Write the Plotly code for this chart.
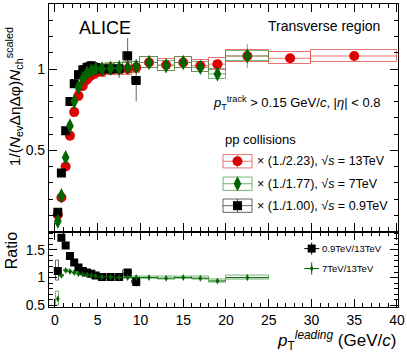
import plotly.graph_objects as go
from plotly.subplots import make_subplots

# leading pT bin centres and half widths (GeV/c)
pt = [0.33, 0.75, 1.25, 1.75, 2.25, 2.75, 3.25, 3.75, 4.25, 4.75,
      5.5, 6.5, 7.5, 8.5, 9.5, 11, 13, 15, 17, 19, 22.5, 27.5, 35]
pt_hw = [0.17, 0.25, 0.25, 0.25, 0.25, 0.25, 0.25, 0.25, 0.25, 0.25,
         0.5, 0.5, 0.5, 0.5, 0.5, 1, 1, 1, 1, 1, 2.5, 2.5, 5]

# scaled number densities, transverse region
dens_13 = [0.103, 0.21, 0.40, 0.59, 0.735, 0.835, 0.895, 0.935, 0.96, 0.975,
           0.985, 0.995, 1.0, 1.0, 1.01, 1.04, 1.025, 1.04, 1.02, 1.03, 1.08, 1.066, 1.08]
stat_13 = [0.003, 0.003, 0.004, 0.004, 0.004, 0.005, 0.005, 0.005, 0.006, 0.006,
           0.006, 0.007, 0.008, 0.009, 0.01, 0.01, 0.012, 0.015, 0.017, 0.02, 0.02, 0.025, 0.03]
dens_7 = [0.064, 0.22, 0.455, 0.65, 0.80, 0.89, 0.94, 0.975, 0.99, 1.0,
          1.0, 1.005, 1.005, 1.01, 1.015, 1.04, 1.02, 1.04, 1.01, 0.97, 1.08]
stat_7 = [0.003, 0.003, 0.004, 0.005, 0.005, 0.006, 0.006, 0.007, 0.008, 0.009,
          0.01, 0.012, 0.015, 0.02, 0.02, 0.02, 0.025, 0.025, 0.03, 0.03, 0.075]
dens_09 = [0.119, 0.36, 0.62, 0.80, 0.91, 0.965, 0.995, 1.01, 1.02, 1.01,
           1.0, 1.0, 1.0, 1.08, 0.93]
stat_09 = [0.004, 0.005, 0.006, 0.008, 0.01, 0.012, 0.014, 0.016, 0.02, 0.025,
           0.02, 0.03, 0.055, 0.11, 0.13]

# ratios to 13 TeV
ratio_7 = [0.62, 1.04, 1.13, 1.11, 1.09, 1.07, 1.06, 1.05, 1.04, 1.03,
           1.01, 1.01, 1.0, 1.0, 1.0, 1.0, 0.99, 1.0, 0.99, 0.94, 1.0]
ratio_7_stat = [0.01, 0.01, 0.01, 0.01, 0.01, 0.01, 0.01, 0.01, 0.01, 0.01,
                0.01, 0.01, 0.012, 0.015, 0.02, 0.015, 0.02, 0.02, 0.025, 0.03, 0.05]
ratio_7_sys = [0.12, 0.02, 0.02, 0.02, 0.02, 0.02, 0.02, 0.02, 0.02, 0.02,
               0.025, 0.025, 0.025, 0.025, 0.025, 0.025, 0.025, 0.025, 0.025, 0.03, 0.03]
ratio_09 = [1.12, 1.72, 1.58, 1.39, 1.27, 1.18, 1.12, 1.09, 1.07, 1.04,
            1.01, 1.01, 1.01, 1.09, 0.92]
ratio_09_stat = [0.01, 0.01, 0.01, 0.01, 0.01, 0.01, 0.01, 0.01, 0.012, 0.015,
                 0.015, 0.02, 0.03, 0.06, 0.08]
ratio_09_sys = [0.18, 0.02, 0.02, 0.02, 0.02, 0.02, 0.02, 0.02, 0.02, 0.02,
                0.02, 0.02, 0.02, 0.03, 0.03]

RED = "#dd0000"
GREEN = "#006400"
BLACK = "#000000"
RED_BOX = "rgba(225,70,70,0.75)"
GREEN_BOX = "rgba(60,150,60,0.7)"
BLACK_BOX = "rgba(60,60,60,0.8)"
FONT = "Liberation Sans, Arial, sans-serif"

fig = make_subplots(rows=2, cols=1, shared_xaxes=True, vertical_spacing=0,
                    row_heights=[0.751, 0.249])


def sys_boxes(x, hw, y, rel_or_abs, color, row, relative=True):
    n = len(y)
    half = [y[i] * rel_or_abs if relative else rel_or_abs[i] for i in range(n)]
    fig.add_trace(go.Bar(
        x=x[:n], y=[2 * h for h in half], base=[y[i] - half[i] for i in range(n)],
        width=[2 * w for w in hw[:n]],
        marker=dict(color="rgba(0,0,0,0)", line=dict(color=color, width=1)),
        showlegend=False, hoverinfo="skip"), row=row, col=1)


def points(x, hw, y, err, color, symbol, size, row, ecolor=None):
    n = len(y)
    fig.add_trace(go.Scatter(
        x=x[:n], y=y, mode="markers",
        marker=dict(color=color, symbol=symbol, size=size, line=dict(width=0)),
        error_x=dict(type="data", array=hw[:n], width=0, thickness=1, color=ecolor or color),
        error_y=dict(type="data", array=err, width=0, thickness=1, color=ecolor or color),
        showlegend=False), row=row, col=1)


# main panel
sys_boxes(pt, pt_hw, dens_13, 0.035, RED_BOX, 1)
sys_boxes(pt, pt_hw, dens_7, 0.03, GREEN_BOX, 1)
sys_boxes(pt, pt_hw, dens_09, 0.025, BLACK_BOX, 1)
points(pt, pt_hw, dens_13, stat_13, RED, "circle", 10, 1, ecolor=RED_BOX)
points(pt, pt_hw, dens_09, stat_09, BLACK, "square", 9, 1, ecolor="#666666")
points(pt, pt_hw, dens_7, stat_7, GREEN, "diamond-tall", 11, 1, ecolor=GREEN_BOX)

# ratio panel
fig.add_hline(y=1, line=dict(color="#888888", width=1, dash="dot"), row=2, col=1)
sys_boxes(pt, pt_hw, ratio_7, ratio_7_sys, GREEN_BOX, 2, relative=False)
sys_boxes(pt, [0.17] + pt_hw[1:], ratio_09, ratio_09_sys, BLACK_BOX, 2, relative=False)
points(pt, pt_hw, ratio_09, ratio_09_stat, BLACK, "square", 8, 2, ecolor=BLACK)
points(pt, pt_hw, ratio_7, ratio_7_stat, GREEN, "diamond-tall", 5, 2)

# legend glyphs on a full-area overlay axis (paper units)
leg_x = 0.5401
leg_y = [0.481, 0.4069, 0.3344]
leg_sym = [("circle", 10, RED, RED_BOX), ("diamond-tall", 11, GREEN, GREEN_BOX),
           ("square", 9, BLACK, BLACK_BOX)]
leg_txt = ["× (1./2.23), √<i>s</i> = 13TeV", "× (1./1.77), √<i>s</i> = 7TeV",
           "× (1./1.00), √<i>s</i> = 0.9TeV"]
for yy, (sym, sz, col, bcol), txt in zip(leg_y, leg_sym, leg_txt):
    fig.add_shape(type="rect", xref="paper", yref="paper",
                  x0=leg_x - 0.0415, x1=leg_x + 0.0415, y0=yy - 0.022, y1=yy + 0.022,
                  line=dict(color=bcol, width=1))
    fig.add_trace(go.Scatter(
        x=[leg_x], y=[yy], xaxis="x3", yaxis="y3", mode="markers",
        marker=dict(color=col, symbol=sym, size=sz),
        error_x=dict(type="constant", value=0.0415, width=0, thickness=1, color=bcol),
        error_y=dict(type="constant", value=0.022, width=0, thickness=1, color=bcol),
        showlegend=False, hoverinfo="skip"))
    fig.add_annotation(x=0.590, y=yy, xref="paper", yref="paper", text=txt,
                       showarrow=False, xanchor="left", yanchor="middle",
                       font=dict(size=12.5, family=FONT, color="black"))

rleg_x = 0.7527
rleg_y = [0.1928, 0.1269]
rleg_sym = [("square", 8, BLACK), ("diamond-tall", 5, GREEN)]
rleg_txt = ["0.9TeV/13TeV", "7TeV/13TeV"]
for yy, (sym, sz, col), txt in zip(rleg_y, rleg_sym, rleg_txt):
    fig.add_trace(go.Scatter(
        x=[rleg_x], y=[yy], xaxis="x3", yaxis="y3", mode="markers",
        marker=dict(color=col, symbol=sym, size=sz),
        error_x=dict(type="constant", value=0.0215, width=0, thickness=1, color=col),
        error_y=dict(type="constant", value=0.02, width=0, thickness=1, color=col),
        showlegend=False, hoverinfo="skip"))
    fig.add_annotation(x=0.7765, y=yy, xref="paper", yref="paper", text=txt,
                       showarrow=False, xanchor="left", yanchor="middle",
                       font=dict(size=9.5, family=FONT, color="black"))

# texts
fig.add_annotation(x=0.08, y=0.922, xref="paper", yref="paper", text="ALICE",
                   showarrow=False, xanchor="left", yanchor="middle",
                   font=dict(size=18, family=FONT, color="black"))
fig.add_annotation(x=0.955, y=0.926, xref="paper", yref="paper", text="Transverse region",
                   showarrow=False, xanchor="right", yanchor="middle",
                   font=dict(size=14, family=FONT, color="black"))
fig.add_annotation(x=0.955, y=0.672, xref="paper", yref="paper",
                   text="<i>p</i><sub>T</sub><sup>track</sup> > 0.15 GeV/<i>c</i>, |<i>η</i>| < 0.8",
                   showarrow=False, xanchor="right", yanchor="middle",
                   font=dict(size=13, family=FONT, color="black"))
fig.add_annotation(x=0.4986, y=0.5519, xref="paper", yref="paper", text="pp collisions",
                   showarrow=False, xanchor="left", yanchor="middle",
                   font=dict(size=13, family=FONT, color="black"))
fig.add_annotation(x=-0.098, y=0.695, xref="paper", yref="paper", textangle=-90,
                   text="1/(<i>N</i><sub>ev</sub>ΔηΔφ)<i>N</i><sub>ch</sub><sup>scaled</sup>",
                   showarrow=False, xanchor="center", yanchor="middle",
                   font=dict(size=15.5, family=FONT, color="black"))
fig.add_annotation(x=-0.105, y=0.185, xref="paper", yref="paper", textangle=-90,
                   text="Ratio", showarrow=False, xanchor="center", yanchor="middle",
                   font=dict(size=16, family=FONT, color="black"))
fig.add_annotation(x=1.0, y=-0.112, xref="paper", yref="paper", xanchor="right",
                   yanchor="middle",
                   text="<i>p</i><sub>T</sub><sup><i>leading</i></sup> (GeV/<i>c</i>)",
                   showarrow=False, font=dict(size=17, family=FONT, color="black"))

axis_common = dict(showline=True, linecolor="black", linewidth=1.2, mirror="allticks",
                   ticks="inside", tickcolor="black", showgrid=False, zeroline=False,
                   automargin=False,
                   tickfont=dict(size=14, family=FONT, color="black"))

fig.update_xaxes(range=[-0.7, 40.12], tickvals=[0, 5, 10, 15, 20, 25, 30, 35, 40],
                 ticklen=8, minor=dict(dtick=1, ticks="inside", ticklen=4, tickcolor="black"),
                 **axis_common)
fig.update_xaxes(showticklabels=False, row=1, col=1)
fig.update_yaxes(range=[0, 1.4], tickvals=[0, 0.5, 1], ticktext=["", "0.5", "1"], ticklen=8,
                 minor=dict(dtick=0.1, ticks="inside", ticklen=4, tickcolor="black"),
                 row=1, col=1, **axis_common)
fig.update_yaxes(range=[0.47, 1.83], tickvals=[0.5, 1, 1.5], ticktext=["0.5", "1", "1.5"],
                 ticklen=8, minor=dict(dtick=0.1, ticks="inside", ticklen=4, tickcolor="black"),
                 row=2, col=1, **axis_common)

fig.update_layout(
    width=407, height=357,
    margin=dict(l=49, r=9, t=4, b=49.5, autoexpand=False),
    paper_bgcolor="white", plot_bgcolor="rgba(0,0,0,0)",
    barmode="overlay", bargap=0, showlegend=False,
    font=dict(family=FONT, color="black"),
    xaxis3=dict(domain=[0, 1], range=[0, 1], anchor="y3", visible=False, fixedrange=True),
    yaxis3=dict(domain=[0, 1], range=[0, 1], anchor="x3", visible=False, fixedrange=True),
)

fig.write_html("out.html", config={"displayModeBar": False},
               post_script="document.body.style.margin='0';")
